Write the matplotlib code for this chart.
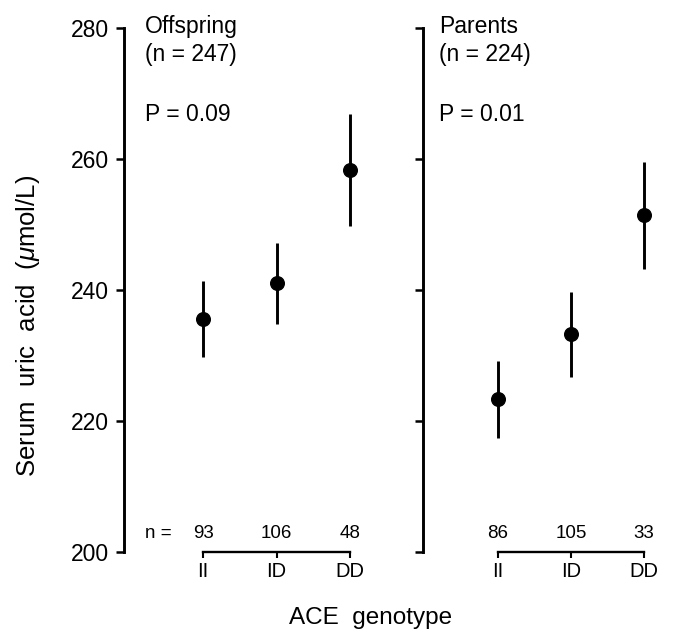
import matplotlib
matplotlib.use('Agg')
import matplotlib.pyplot as plt

plt.rcParams['font.family'] = ['Liberation Sans', 'DejaVu Sans']
plt.rcParams['mathtext.fontset'] = 'custom'
plt.rcParams['mathtext.rm'] = 'Liberation Sans'
plt.rcParams['mathtext.it'] = 'Liberation Sans:italic'

genotypes = ['II', 'ID', 'DD']
offspring_mean = [235.5, 241.0, 258.3]
offspring_err = [5.8, 6.2, 8.5]
offspring_n = [93, 106, 48]
parents_mean = [223.3, 233.2, 251.4]
parents_err = [5.9, 6.5, 8.2]
parents_n = [86, 105, 33]
yticks = [200, 220, 240, 260, 280]

W, H = 673, 635
fig = plt.figure(figsize=(W / 100, H / 100), dpi=100)


def px_axes(left, right, top, bottom):
    return fig.add_axes([left / W, 1 - bottom / H, (right - left) / W, (bottom - top) / H])


ax1 = px_axes(124, 374, 28, 551.7)
ax2 = px_axes(423, 673, 28, 551.7)

panels = [
    (ax1, offspring_mean, offspring_err, offspring_n, 'Offspring\n(n = 247)', 'P = 0.09', (-79 / 73.5, 250 / 73.5), 0.084, True),
    (ax2, parents_mean, parents_err, parents_n, 'Parents\n(n = 224)', 'P = 0.01', (-75 / 73.0, 250 / 73.0), 0.064, False),
]

for ax, mean, err, ns, title, ptxt, (x0, xr), tx, show_labels in panels:
    x = list(range(len(genotypes)))
    ax.errorbar(x, mean, yerr=err, fmt='o', color='black', ms=9.8,
                elinewidth=2.1, capsize=0, clip_on=False)
    ax.set_xlim(x0, x0 + xr)
    ax.set_ylim(200, 280)
    ax.set_yticks(yticks)
    if not show_labels:
        ax.set_yticklabels([])
    ax.set_xticks(x)
    ax.set_xticklabels(genotypes, fontsize=14.5)
    for s in ['top', 'right']:
        ax.spines[s].set_visible(False)
    ax.spines['left'].set_linewidth(2.1)
    ax.spines['bottom'].set_linewidth(1.7)
    ax.spines['bottom'].set_bounds(0, 2)
    ax.tick_params(axis='y', direction='out', length=6, width=1.8, labelsize=16.5, pad=5)
    ax.tick_params(axis='x', direction='out', length=4.5, width=1.5, pad=3)
    ax.patch.set_visible(False)
    for xi, n in zip(x, ns):
        ax.text(xi, 202.85, str(n), ha='center', va='center', fontsize=13.5)
    ax.text(tx, 1.0248, title, transform=ax.transAxes, ha='left', va='top',
            fontsize=16.5, linespacing=1.3)
    ax.text(tx, 0.822, ptxt, transform=ax.transAxes, ha='left', va='baseline',
            fontsize=16.5)

ax1.text(-0.79, 202.85, 'n =', ha='left', va='center', fontsize=13.5)

fig.text(28 / W, 1 - 326 / H, 'Serum  uric  acid  ($\\mathit{\\mu}$mol/L)', rotation=90,
         ha='center', va='center', fontsize=18.5)
fig.text(371 / W, 1 - 618 / H, 'ACE  genotype', ha='center', va='center', fontsize=17.5)

fig.savefig('out.png', dpi=100)
